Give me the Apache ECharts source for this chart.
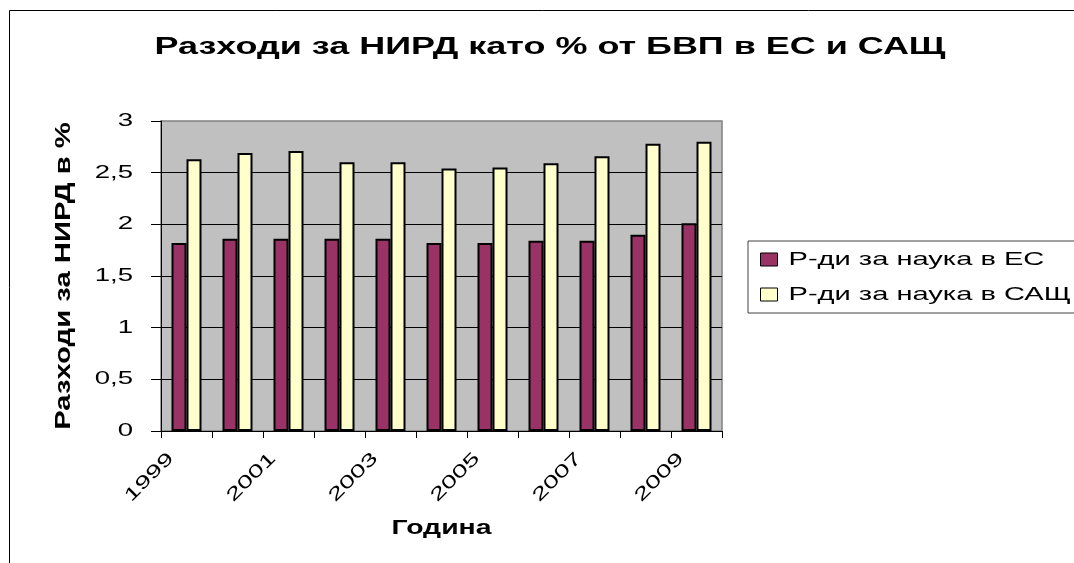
<!DOCTYPE html>
<html><head><meta charset="utf-8">
<script src="https://cdn.jsdelivr.net/npm/echarts@6/dist/echarts.min.js"></script>
<style>html,body{margin:0;padding:0;background:#fff}#c{width:1074px;height:563px}</style>
</head><body><div id="c"></div>
<script>
const years = ['1999','2000','2001','2002','2003','2004','2005','2006','2007','2008','2009'];
const euValues = [1.82,1.86,1.86,1.86,1.86,1.82,1.82,1.84,1.84,1.90,2.01];
const usValues = [2.63,2.69,2.71,2.60,2.60,2.54,2.55,2.59,2.66,2.78,2.80];
const seriesNames = ['Р-ди за наука в ЕС','Р-ди за наука в САЩ'];
const titleText = 'Разходи за НИРД като % от БВП в ЕС и САЩ';
const yAxisTitle = 'Разходи за НИРД в %';
const xAxisTitle = 'Година';

// The reference text is drawn horizontally widened (old Office rendering).
// Font-family lists act as tags that pick the widening factor.
const FR = '"Liberation Sans", sans-serif';            // regular texts + title
const FY = '"Liberation Sans", Arial, sans-serif';     // y axis name
const FX = '"Liberation Sans", Helvetica, sans-serif'; // x axis name
function sxFor(font){
  if(!font) return 1;
  if(font.indexOf('Arial')>=0) return 1.33;
  if(font.indexOf('Helvetica')>=0) return 1.42;
  if(font.indexOf('Liberation')>=0) return 1.53;
  return 1;
}
(function(){
  const P = CanvasRenderingContext2D.prototype;
  const oFill = P.fillText, oStroke = P.strokeText, oMeasure = P.measureText;
  P.fillText = function(t,x,y){
    const s = sxFor(this.font);
    if(s===1) return oFill.apply(this, arguments);
    this.save(); this.translate(x,y); this.scale(s,1); oFill.call(this,t,0,0); this.restore();
  };
  P.strokeText = function(t,x,y){
    const s = sxFor(this.font);
    if(s===1) return oStroke.apply(this, arguments);
    this.save(); this.translate(x,y); this.scale(s,1); oStroke.call(this,t,0,0); this.restore();
  };
  P.measureText = function(t){
    const m = oMeasure.call(this,t);
    const s = sxFor(this.font);
    if(s===1 || t==='国') return m;
    return {width:m.width*s,
      actualBoundingBoxAscent:m.actualBoundingBoxAscent,
      actualBoundingBoxDescent:m.actualBoundingBoxDescent,
      actualBoundingBoxLeft:m.actualBoundingBoxLeft*s,
      actualBoundingBoxRight:m.actualBoundingBoxRight*s,
      fontBoundingBoxAscent:m.fontBoundingBoxAscent,
      fontBoundingBoxDescent:m.fontBoundingBoxDescent};
  };
})();

const chart = echarts.init(document.getElementById('c'), null, {renderer:'canvas'});
chart.setOption({
  backgroundColor:'#fff',
  animation:false,
  textStyle:{fontFamily:FR},
  title:{text:titleText,left:545,textAlign:'center',top:31,
    textStyle:{fontFamily:FR,fontSize:23.5,fontWeight:'bold',color:'#000'}},
  graphic:[{type:'rect',shape:{x:9.5,y:10.5,width:1080,height:600},
    style:{fill:'none',stroke:'#000',lineWidth:1},silent:true}],
  legend:{orient:'vertical',left:748,top:241,padding:[9,40,9,12],itemGap:16,
    borderColor:'#404040',borderWidth:1,backgroundColor:'#fff',
    itemWidth:17,itemHeight:13,icon:'rect',
    itemStyle:{borderColor:'#000',borderWidth:1},
    textStyle:{fontFamily:FR,fontSize:19,color:'#000',padding:[0,0,0,6]},
    data:seriesNames},
  grid:{left:161,right:352,top:121,bottom:132,show:true,backgroundColor:'#C0C0C0',borderColor:'#808080',borderWidth:1.5},
  xAxis:{type:'category',data:years,boundaryGap:true,
    name:xAxisTitle,nameLocation:'middle',nameGap:87,
    nameTextStyle:{fontFamily:FX,fontSize:20,fontWeight:'bold',color:'#000'},
    axisLine:{lineStyle:{color:'#000',width:1}},
    axisTick:{show:true,interval:0,length:7,lineStyle:{color:'#000'}},
    axisLabel:{interval:1,rotate:45,margin:9,padding:[0,22,0,0],fontFamily:FR,fontSize:18,color:'#000'}},
  yAxis:{type:'value',min:0,max:3,interval:0.5,
    name:yAxisTitle,nameLocation:'middle',nameGap:86,
    nameTextStyle:{fontFamily:FY,fontSize:22,fontWeight:'bold',color:'#000'},
    axisLine:{show:true,lineStyle:{color:'#000',width:1}},
    axisTick:{show:true,length:10,lineStyle:{color:'#000'}},
    splitLine:{show:true,showMaxLine:false,lineStyle:{color:'#000',width:1}},
    axisLabel:{margin:28,fontFamily:FR,fontSize:18,color:'#000',
      formatter:v=>String(v).replace('.',',')}},
  series:[
    {name:seriesNames[0],type:'bar',data:euValues,barWidth:15,barGap:'0%',
      itemStyle:{color:'#993366',borderColor:'#000',borderWidth:2}},
    {name:seriesNames[1],type:'bar',data:usValues,barWidth:15,barGap:'0%',
      itemStyle:{color:'#FFFFCC',borderColor:'#000',borderWidth:2}}
  ]
});
</script></body></html>
